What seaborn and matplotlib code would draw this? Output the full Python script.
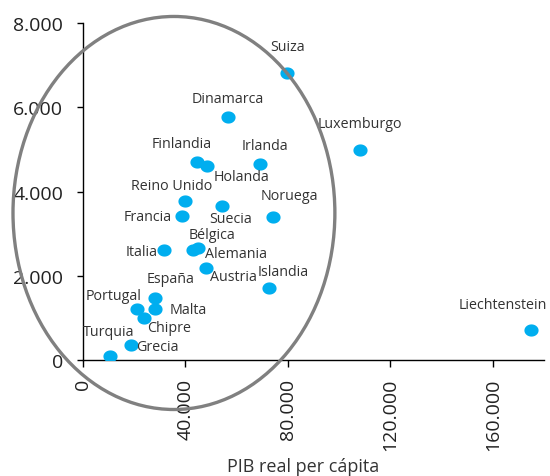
import numpy as np
import pandas as pd
import matplotlib
matplotlib.use("Agg")
import matplotlib.pyplot as plt
import seaborn as sns
from matplotlib.path import Path
from matplotlib.markers import MarkerStyle
from matplotlib.patches import Ellipse
from matplotlib.ticker import FuncFormatter, MultipleLocator

# Data: real GDP per capita (x) vs indicator (y)
paises = ["Suiza", "Dinamarca", "Finlandia", "Holanda", "Irlanda", "Luxemburgo",
          "Reino Unido", "Suecia", "Francia", "Noruega", "Italia", "Bélgica",
          "Alemania", "Austria", "Islandia", "España", "Portugal", "Malta",
          "Chipre", "Grecia", "Turquia", "Liechtenstein"]
pib = [79800, 56600, 44700, 48600, 69200, 108100,
       39900, 54200, 38600, 74100, 31800, 45100,
       43200, 48100, 72800, 28200, 21100, 28200,
       23900, 18700, 10700, 174900]
valor = [6820, 5760, 4710, 4600, 4660, 4990,
         3780, 3650, 3410, 3390, 2620, 2650,
         2620, 2190, 1720, 1470, 1210, 1200,
         990, 360, 90, 710]
# label offsets in pixels (dx, dy) from each point
desplazamientos = [(0, 26), (0, 19), (-16, 18), (34, -10), (5, 18), (0, 26),
                   (-13, 15), (9, -12), (-34, 0), (17, 22), (-23, -2), (14, 14),
                   (43, -4), (27, -9), (14, 16), (16, 20), (-23, 14), (33, 0),
                   (25, -9), (27, -2), (-1, 25), (-28, 26)]

df = pd.DataFrame({"pais": paises, "pib": pib, "valor": valor})

sns.set_style("white")
plt.rcParams["font.family"] = ["Open Sans", "DejaVu Sans"]

fig = plt.figure(figsize=(5.5, 4.77), dpi=100)
ax = fig.add_axes([82.7 / 550, 116 / 477, 461.3 / 550, 337 / 477])

# slightly flattened dot marker
t = np.linspace(0, 2 * np.pi, 64)
elipse_path = Path(np.column_stack([np.cos(t), 0.86 * np.sin(t)]), closed=True)
marcador = MarkerStyle(elipse_path)

sns.scatterplot(data=df, x="pib", y="valor", ax=ax, marker=marcador, s=104,
                color="#00AEEF", linewidth=0, zorder=3, legend=False)

for p, x, y, (dx, dy) in zip(paises, pib, valor, desplazamientos):
    ax.annotate(p, (x, y), xytext=(dx, dy), textcoords="offset pixels",
                ha="center", va="center", fontsize=10.3, color="#333333", zorder=4)

# highlight ellipse around the core group
ax.add_patch(Ellipse((35600, 3490), 125600, 9330, fill=False,
                     edgecolor="#808080", linewidth=2.4, zorder=5, clip_on=False))

ax.set_xlim(0, 180000)
ax.set_ylim(0, 8000)
ax.xaxis.set_major_locator(MultipleLocator(40000))
ax.yaxis.set_major_locator(MultipleLocator(2000))
fmt = FuncFormatter(lambda v, _: f"{int(v):,}".replace(",", "."))
ax.xaxis.set_major_formatter(fmt)
ax.yaxis.set_major_formatter(fmt)

for s in ["top", "right"]:
    ax.spines[s].set_visible(False)
for s in ["left", "bottom"]:
    ax.spines[s].set_color("black")
    ax.spines[s].set_linewidth(1.0)

ax.tick_params(axis="y", direction="out", length=4, width=1, color="black",
               labelsize=14, labelcolor="#222222", pad=10, left=True)
ax.tick_params(axis="x", direction="out", length=5, width=1, color="black",
               labelsize=14, labelcolor="#222222", pad=8, bottom=True,
               labelrotation=90)

ax.set_xlabel("PIB real per cápita", fontsize=13, color="#333333")
ax.set_ylabel("")
ax.xaxis.set_label_coords(0.478, -0.315)
ax.xaxis.label.set_va("center")

fig.savefig("out.png", dpi=100)
